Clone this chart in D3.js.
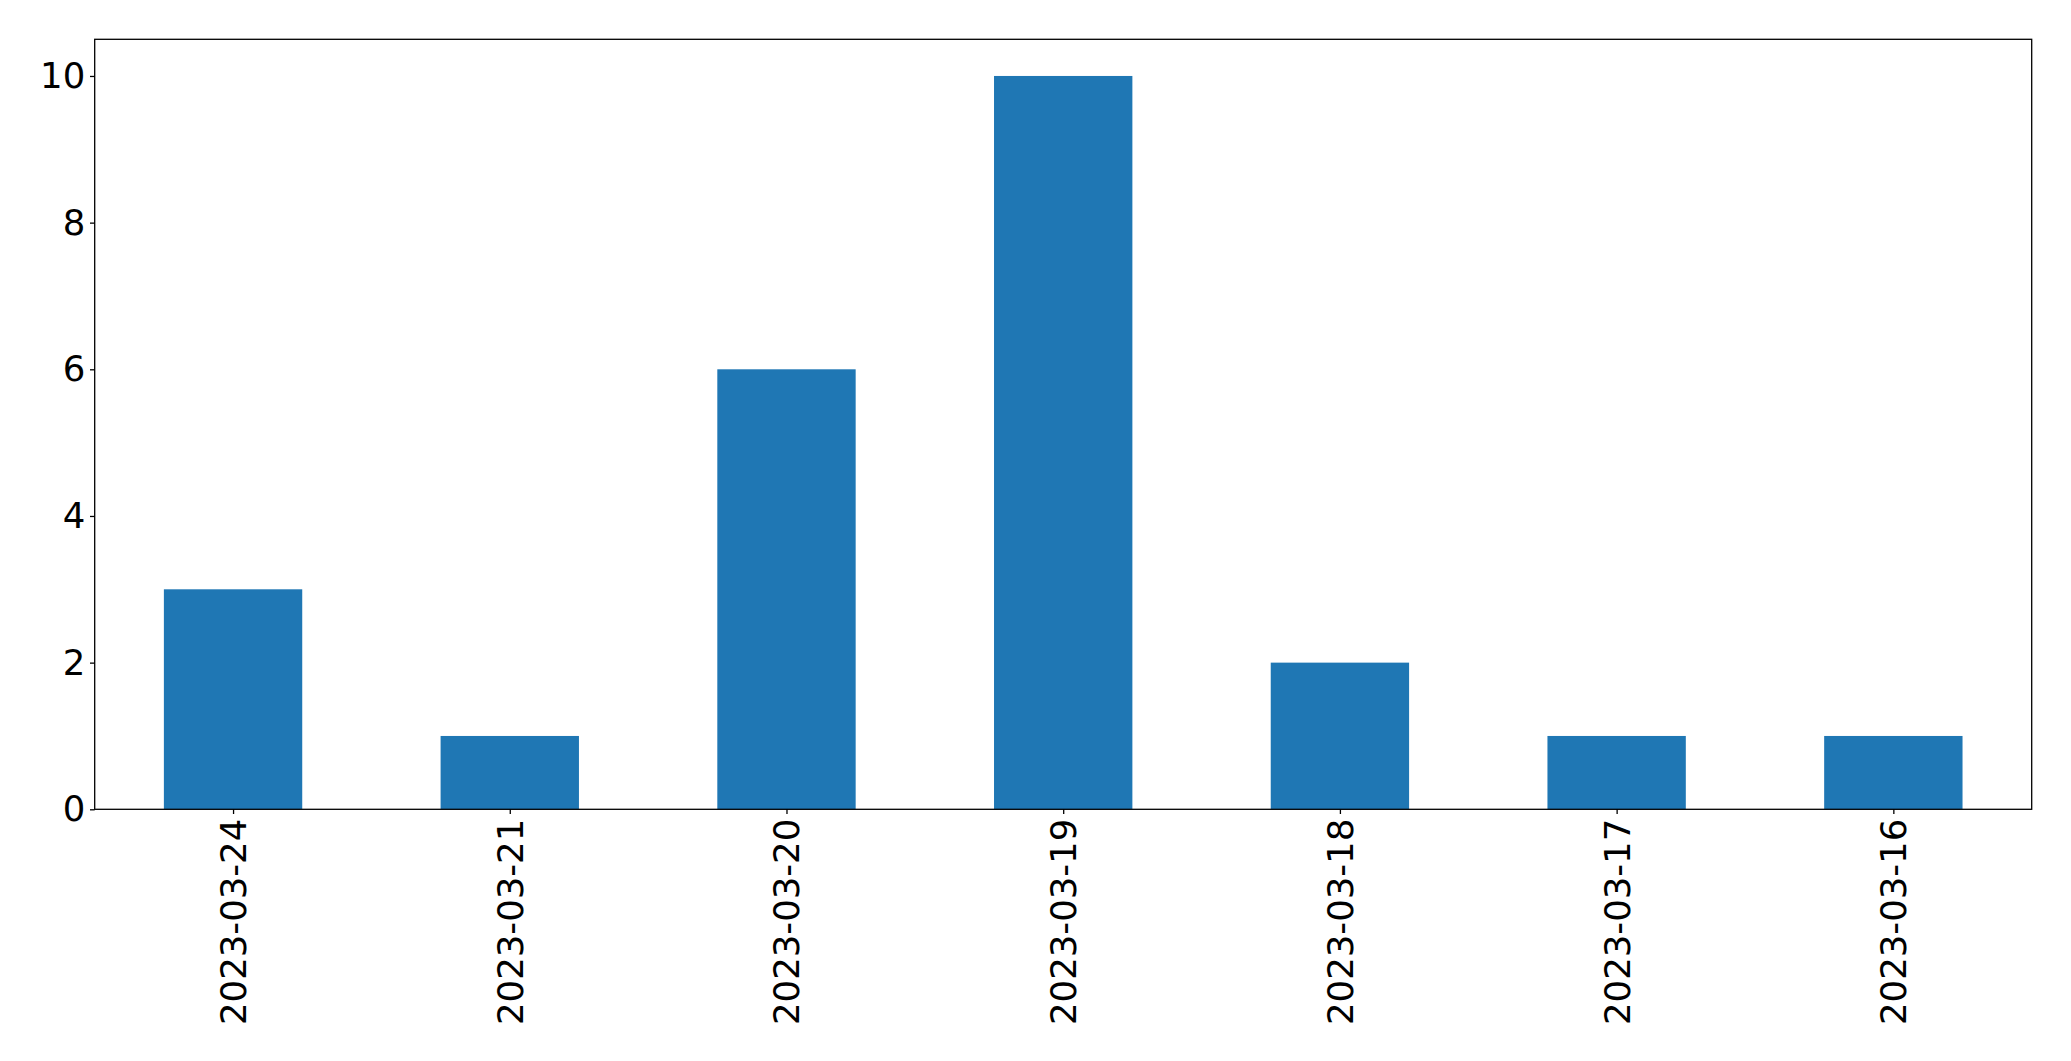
<!DOCTYPE html>
<html><head><meta charset="utf-8">
<script src="https://cdn.jsdelivr.net/npm/d3@7"></script>
<style>body{margin:0;background:#fff;} text{font-family:"DejaVu Sans",sans-serif;}</style>
</head><body>
<svg id="c" width="2071" height="1061"></svg>
<script>
const categories = ["2023-03-24","2023-03-21","2023-03-20","2023-03-19","2023-03-18","2023-03-17","2023-03-16"];
const values = [3,1,6,10,2,1,1];
const yTicks = [0,2,4,6,8,10];

const W=2071,H=1061;
const m={left:94.7,right:2031.7,top:39.3,bottom:809.3};
const fs=35.5;
const svg=d3.select("#c");
const x=d3.scaleLinear().domain([-0.5,categories.length-0.5]).range([m.left,m.right]);
const y=d3.scaleLinear().domain([0,10.5]).range([m.bottom,m.top]);

svg.append("g").selectAll("rect").data(values).join("rect")
  .attr("x",(d,i)=>x(i-0.25)).attr("width",(d,i)=>x(i+0.25)-x(i-0.25))
  .attr("y",d=>y(d)).attr("height",d=>y(0)-y(d)).attr("fill","#1f77b4");

// frame
svg.append("rect").attr("x",m.left).attr("y",m.top).attr("width",m.right-m.left).attr("height",m.bottom-m.top)
  .attr("fill","none").attr("stroke","#000").attr("stroke-width",1.3);

// y axis
const ya=svg.append("g").attr("transform",`translate(${m.left},0)`)
  .call(d3.axisLeft(y).tickValues(yTicks).tickSize(4.7).tickPadding(4.7).tickFormat(d3.format("d")));
ya.select(".domain").remove();
ya.selectAll("line").attr("stroke","#000").attr("stroke-width",1.3);
ya.selectAll("text").attr("font-size",fs).attr("fill","#000").attr("font-family","DejaVu Sans");

// x axis
const xa=svg.append("g").attr("transform",`translate(0,${m.bottom})`)
  .call(d3.axisBottom(x).tickValues(d3.range(categories.length)).tickSize(4.7).tickFormat(i=>categories[i]));
xa.select(".domain").remove();
xa.selectAll("line").attr("stroke","#000").attr("stroke-width",1.3);
xa.selectAll("text").attr("font-size",fs).attr("fill","#000").attr("font-family","DejaVu Sans")
  .attr("text-anchor","end").attr("dy","0.35em").attr("y",0)
  .attr("transform","translate(0,"+(4.7+4.7)+") rotate(-90)");
</script>
</body></html>
